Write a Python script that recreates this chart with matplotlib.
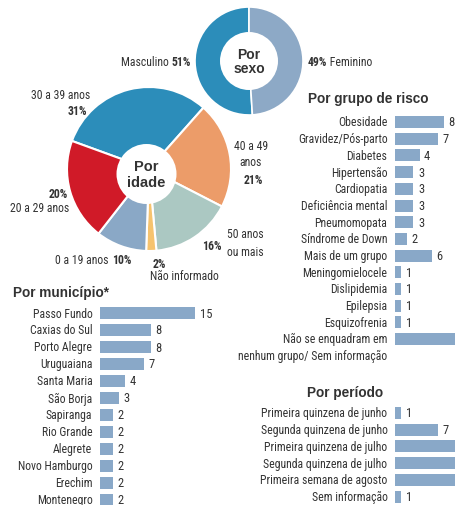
import matplotlib
matplotlib.use("Agg")
import matplotlib.pyplot as plt
from matplotlib import font_manager
from matplotlib.patches import Circle

# ---------------- data ----------------
sexo_labels = ["Masculino", "Feminino"]
sexo_values = [51, 49]

idade_labels = ["30 a 39 anos", "40 a 49 anos", "50 anos ou mais", "Não informado", "0 a 19 anos", "20 a 29 anos"]
idade_values = [31, 21, 16, 2, 10, 20]

risco_labels = ["Obesidade", "Gravidez/Pós-parto", "Diabetes", "Hipertensão", "Cardiopatia",
                "Deficiência mental", "Pneumomopata", "Síndrome de Down", "Mais de um grupo",
                "Meningomielocele", "Dislipidemia", "Epilepsia", "Esquizofrenia",
                "Não se enquadram em\nnenhum grupo/ Sem informação"]
risco_values = [8, 7, 4, 3, 3, 3, 3, 2, 6, 1, 1, 1, 1, 18]

municipio_labels = ["Passo Fundo", "Caxias do Sul", "Porto Alegre", "Uruguaiana", "Santa Maria",
                    "São Borja", "Sapiranga", "Rio Grande", "Alegrete", "Novo Hamburgo",
                    "Erechim", "Montenegro"]
municipio_values = [15, 8, 8, 7, 4, 3, 2, 2, 2, 2, 2, 2]

periodo_labels = ["Primeira quinzena de junho", "Segunda quinzena de junho", "Primeira quinzena de julho",
                  "Segunda quinzena de julho", "Primeira semana de agosto", "Sem informação"]
periodo_values = [1, 7, 15, 20, 13, 1]

# ---------------- style ----------------
avail = {f.name for f in font_manager.fontManager.ttflist}
NARROW = "Roboto Condensed" if "Roboto Condensed" in avail else "DejaVu Sans"
BOLD = "Liberation Sans" if "Liberation Sans" in avail else "DejaVu Sans"
TXT = "#333333"
BAR = "#89A8C8"
sexo_colors = ["#2C8DBA", "#8DA9C6"]
idade_colors = ["#2C8DBA", "#EC9C69", "#ABC8C2", "#F6C36E", "#8AA8C6", "#D01A28"]
FS = 8.5

W, H = 456, 506
fig = plt.figure(figsize=(W / 100, H / 100), dpi=100)
fig.patch.set_facecolor("white")

ax0 = fig.add_axes([0, 0, 1, 1])
renderer = fig.canvas.get_renderer()


def P(x, y):
    return x, H - y


def txt(x, y, s, size=FS, weight="normal", ha="center", va="center", family=None, **kw):
    return ax0.text(*P(x, y), s, fontsize=size, fontweight=weight, ha=ha, va=va,
                    family=family or NARROW, color=TXT, **kw)


def width_px(s, size=FS, weight="normal", family=None):
    t = ax0.text(0, 0, s, fontsize=size, fontweight=weight, family=family or NARROW)
    w = t.get_window_extent(renderer).width
    t.remove()
    return w


def seg(x, y, parts, ha="left"):
    """parts: list of (text, weight); ha refers to the whole line."""
    widths = [width_px(s, weight=w) for s, w in parts]
    total = sum(widths)
    start = x if ha == "left" else (x - total if ha == "right" else x - total / 2)
    for (s, w), wd in zip(parts, widths):
        txt(start, y, s, weight=w, ha="left")
        start += wd


# sex donut
ax0.pie(sexo_values, colors=sexo_colors, startangle=90, counterclock=True,
        center=P(249, 62), radius=54, wedgeprops=dict(edgecolor="white", linewidth=1.2))
ax0.add_patch(Circle(P(249, 62), 29, facecolor="white", edgecolor="none", zorder=3))
txt(249, 62, "Por\nsexo", size=10, weight="bold", family=BOLD, zorder=4, linespacing=1.05)

# age donut
ax0.pie(idade_values, colors=idade_colors, startangle=160, counterclock=False,
        center=P(149, 170), radius=82, wedgeprops=dict(edgecolor="white", linewidth=1.5))
ax0.add_patch(Circle(P(146.5, 175), 30, facecolor="white", edgecolor="none", zorder=3))
txt(146.5, 175, "Por\nidade", size=10.5, weight="bold", family=BOLD, zorder=4, linespacing=1.1)

ax0.set_xlim(0, W)
ax0.set_ylim(0, H)
ax0.set_aspect("auto")
ax0.axis("off")

# sex labels
seg(191, 62, [(sexo_labels[0] + " ", "normal"), (f"{sexo_values[0]}%", "bold")], ha="right")
seg(308, 62, [(f"{sexo_values[1]}%", "bold"), (" " + sexo_labels[1], "normal")], ha="left")

# age labels
txt(90, 95, idade_labels[0], ha="right")
txt(87, 111, f"{idade_values[0]}%", weight="bold", ha="right")
txt(251, 146, "40 a 49")
txt(251, 163, "anos")
txt(253, 181, f"{idade_values[1]}%", weight="bold")
txt(227, 235, "50 anos", ha="left")
txt(227, 253, "ou mais", ha="left")
txt(222, 246, f"{idade_values[2]}%", weight="bold", ha="right")
txt(159, 264, f"{idade_values[3]}%", weight="bold")
txt(150, 277, idade_labels[3], ha="left")
seg(131, 260, [(idade_labels[4] + " ", "normal"), (f"{idade_values[4]}%", "bold")], ha="right")
txt(68, 195, f"{idade_values[5]}%", weight="bold", ha="right")
txt(69, 208, idade_labels[5], ha="right")


# ---------------- bar charts ----------------
def barchart(labels, values, left_px, scale, row0, step, right_px, title, title_xy):
    n = len(labels)
    top = row0 - step / 2
    height = n * step
    ax = fig.add_axes([left_px / W, (H - top - height) / H, (right_px - left_px) / W, height / H])
    xmax = (right_px - left_px) / scale
    ax.barh(range(n), values, height=12 / step, color=BAR, edgecolor="none")
    ax.set_xlim(0, xmax)
    ax.set_ylim(n - 0.5, -0.5)
    ax.axis("off")
    for i, (lab, v) in enumerate(zip(labels, values)):
        if "\n" in lab:
            ax.text(-7.5 / scale, i + 0.48, lab, ha="right", va="center", fontsize=FS,
                    family=NARROW, color=TXT, linespacing=1.45, clip_on=False)
        else:
            ax.text(-7.5 / scale, i, lab, ha="right", va="center", fontsize=FS,
                    family=NARROW, color=TXT, clip_on=False)
        if v + 5 / scale < xmax - 0.5:
            ax.text(v + 4.5 / scale, i, str(v), ha="left", va="center", fontsize=9,
                    family=NARROW, color=TXT, clip_on=False)
    txt(title_xy[0], title_xy[1], title, size=9.8, weight="bold", family=BOLD, ha="left")
    return ax


barchart(risco_labels, risco_values, 395, 6.15, 123, 16.7, W, "Por grupo de risco", (308, 99))
barchart(municipio_labels, municipio_values, 100, 6.35, 314, 17.0, 230, "Por município*", (13, 293))
barchart(periodo_labels, periodo_values, 395, 6.15, 414, 16.7, W, "Por período", (307, 393))

fig.savefig("out.png", dpi=100, facecolor="white")
